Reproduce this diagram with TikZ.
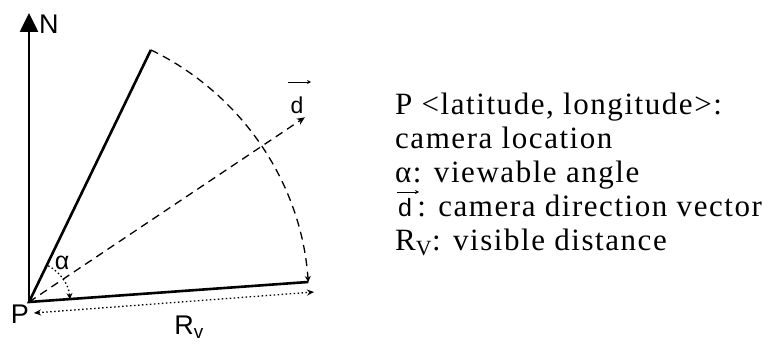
\documentclass[tikz,border=0pt]{standalone}
\usepackage{fontspec}
\setmainfont{Liberation Serif}
\newfontfamily\lsans{Liberation Sans}
\newfontfamily\legendfont[LetterSpace=5]{Liberation Serif}
\newfontfamily\legendsans{Liberation Sans}
\usetikzlibrary{arrows.meta}
\begin{document}
\begin{tikzpicture}[x=1pt,y=1pt,
  solidline/.style={line width=2.6pt},
  dashline/.style={line width=1.3pt, dash pattern=on 8pt off 5.5pt},
  dotline/.style={line width=1.3pt, dash pattern=on 1.5pt off 2.5pt},
  vecarrow/.style={line width=0.8pt, -{Stealth[length=4pt,width=4pt]}},
  lbl/.style={font=\lsans\fontsize{27}{27}\selectfont, inner sep=0pt},
  txt/.style={font=\legendfont\fontsize{31}{31}\selectfont, inner sep=0pt, anchor=base west}]
\useasboundingbox (0,0) rectangle (776,343);
% key points
\coordinate (P) at (29,41);
\coordinate (Ntop) at (29,330);
\coordinate (A) at ([shift={(64.2:280)}]P);
\coordinate (B) at ([shift={(4.1:280)}]P);
\coordinate (D) at ([shift={(33.8:332)}]P);
\coordinate (a1) at ([shift={(62:41)}]P);
\coordinate (R1) at (34,30);
\coordinate (R2) at (314,51);
% north arrow
\draw[solidline, -{Triangle[length=19pt,width=18pt]}] (P) -- (Ntop);
\node[lbl, anchor=west] (N) at (39,319) {N};
% field of view
\draw[solidline] (A) -- (P) -- (B);
\draw[dashline, -{Stealth[length=6pt,width=6pt]}] (A) arc[start angle=64.2, end angle=4.1, radius=280];
\draw[dashline, -{Stealth[length=8pt,width=7pt]}] (P) -- (D);
\draw[dotline, -{Stealth[length=6pt,width=6pt]}] (a1) arc[start angle=62, end angle=4, radius=41];
\draw[dotline, {Stealth[length=7pt,width=6pt]}-{Stealth[length=7pt,width=6pt]}] (R1) -- (R2);
% labels
\node[lbl] (Plbl) at (20,29) {P};
\node[lbl, font=\lsans\fontsize{25}{25}\selectfont] (alpha) at (62,80) {α};
\node[lbl] (Rv) at (189,16) {R\textsubscript{v}};
\node[lbl, font=\lsans\fontsize{23}{23}\selectfont] (dlbl) at (297,238) {d};
\coordinate (dv1) at (288,261);
\coordinate (dv2) at (311,261);
\draw[vecarrow] (dv1) -- (dv2);
% legend
\node[txt] (t1) at (395,228) {P <latitude, longitude>:};
\node[txt] (t2) at (395,194) {camera location};
\node[txt] (t3) at (395,160) {α: viewable angle};
\node[txt] (t4) at (398,126) {{\legendsans\fontsize{25}{25}\selectfont d}\,: camera direction vector};
\node[txt] (t5) at (395,93) {R\textsubscript{V}: visible distance};
\coordinate (tv1) at (397,151);
\coordinate (tv2) at (419,151);
\draw[vecarrow] (tv1) -- (tv2);
\end{tikzpicture}
\end{document}
